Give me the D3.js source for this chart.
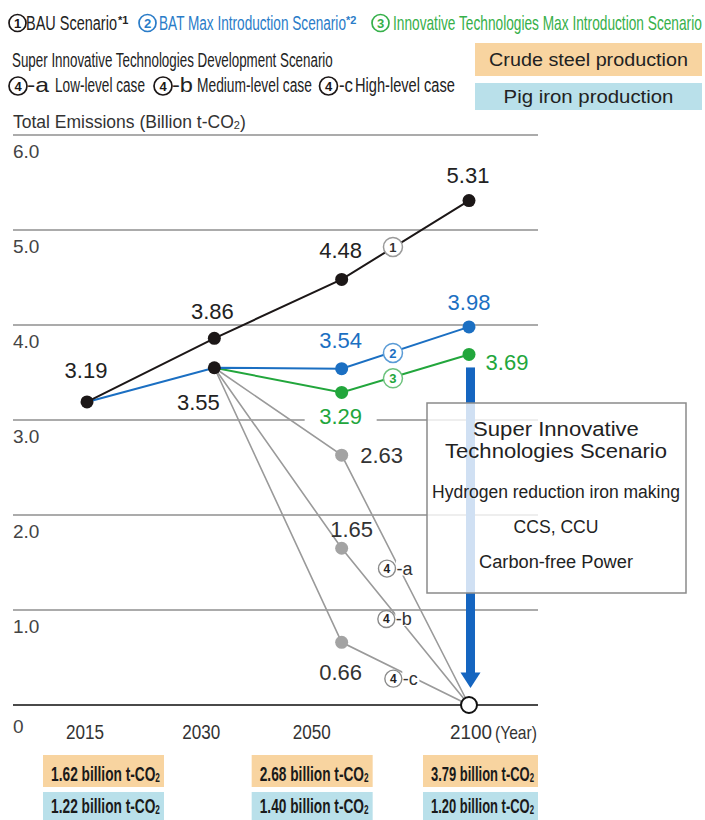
<!DOCTYPE html>
<html>
<head>
<meta charset="utf-8">
<script src="https://cdn.jsdelivr.net/npm/d3@7"></script>
<style>
  html, body { margin: 0; padding: 0; background: #fff; }
  svg { display: block; }
  text { font-family: "Liberation Sans", Arial, Helvetica, sans-serif; }
</style>
</head>
<body>
<svg id="chart" width="705" height="820"></svg>
<script>
// ---- data ----
const years = ["2015", "2030", "2050", "2100"];
const bauValues = [3.19, 3.86, 4.48, 5.31];
const batValues = [3.19, 3.55, 3.54, 3.98];
const innovValues = [null, 3.55, 3.29, 3.69];
const superLow = [null, 3.55, 2.63, 0];
const superMid = [null, 3.55, 1.65, 0];
const superHigh = [null, 3.55, 0.66, 0];
const superCases = ["a", "b", "c"];
const yTicks = [0, 1, 2, 3, 4, 5, 6];
const yTickLabels = ["0", "1.0", "2.0", "3.0", "4.0", "5.0", "6.0"];
const productionYears = ["2015", "2050", "2100"];
const crudeSteel = [1.62, 2.68, 3.79];
const pigIron = [1.22, 1.40, 1.20];

// ---- palette ----
const C = {
  black: "#1c1717", blue: "#1b6fc2", green: "#22a63c", gray: "#a3a3a3",
  grayLine: "#9a9a9a", grid: "#ababab", text: "#222",
  legendBlue: "#2a7cc8", legendGreen: "#36b04a",
  orange: "#f8d4a0", lightBlue: "#b9e0ea", arrow: "#1565c0"
};
const narrow = '"Liberation Sans Narrow", "Liberation Sans", Arial, sans-serif';

const svg = d3.select("#chart");
const x = d3.scalePoint().domain(years).range([87, 469]);
const y = d3.scaleLinear().domain([0, 6]).range([705, 135]);
const fmt = d3.format(".2f");

// squeeze a text element horizontally to a given width
function fitWidth(sel, width, tx, ty) {
  const w = sel.node().getComputedTextLength();
  const k = width / w;
  sel.attr("transform", `translate(${tx},${ty}) scale(${k},1)`);
  return sel;
}
function narrowText(parent, str, left, baseline, width, size, color, weight) {
  const t = parent.append("text").attr("x", 0).attr("y", 0)
    .attr("font-family", narrow).attr("font-size", size)
    .attr("font-weight", weight || "normal").attr("fill", color).text(str);
  return fitWidth(t, width, left, baseline);
}
function circledNum(parent, cx, cy, r, num, stroke, color, fs, sw) {
  const g = parent.append("g").attr("transform", `translate(${cx},${cy})`);
  g.append("circle").attr("r", r).attr("fill", "#fff")
    .attr("stroke", stroke).attr("stroke-width", sw || 1.5);
  g.append("text").attr("text-anchor", "middle").attr("dy", "0.36em")
    .attr("font-size", fs).attr("font-weight", "bold").attr("fill", color).text(num);
  return g;
}

// ---- legend ----
const lg = svg.append("g");
circledNum(lg, 17.5, 23, 8.5, "1", C.black, C.black, 13, 1.7);
narrowText(lg, "BAU Scenario", 26, 30, 91, 21, C.text);
lg.append("text").attr("x", 118).attr("y", 24).attr("font-size", 11).attr("font-weight", "bold")
  .attr("fill", C.text).text("*1");
circledNum(lg, 147.5, 23, 8.5, "2", C.legendBlue, C.legendBlue, 13, 1.7);
narrowText(lg, "BAT Max Introduction Scenario", 159, 30, 187, 21, C.legendBlue);
lg.append("text").attr("x", 346).attr("y", 24).attr("font-size", 11).attr("font-weight", "bold")
  .attr("fill", C.legendBlue).text("*2");
circledNum(lg, 380.5, 23, 8.5, "3", C.legendGreen, C.legendGreen, 13, 1.7);
narrowText(lg, "Innovative Technologies Max Introduction Scenario", 393, 30, 309, 21, C.legendGreen);

narrowText(lg, "Super Innovative Technologies Development Scenario", 12, 67, 321, 21, C.text);

const caseLegend = [
  { c: 18, dash: 27, dashW: 22, label: "Low-level case", lx: 55, lw: 90 },
  { c: 163, dash: 172, dashW: 21, label: "Medium-level case", lx: 197, lw: 115 },
  { c: 328.5, dash: 339, dashW: 14, label: "High-level case", lx: 355, lw: 100 }
];
caseLegend.forEach((d, i) => {
  circledNum(lg, d.c, 86, 9, "4", C.black, C.black, 13, 1.7);
  const t = lg.append("text").attr("x", 0).attr("y", 0).attr("font-size", 21)
    .attr("fill", C.text).text("-" + superCases[i]);
  fitWidth(t, d.dashW, d.dash, 92);
  narrowText(lg, d.label, d.lx, 92, d.lw, 21, C.text);
});

// production colour keys
const keys = [
  { label: "Crude steel production", fill: C.orange, y0: 43, h: 33, base: 66, w: 199 },
  { label: "Pig iron production", fill: C.lightBlue, y0: 83, h: 27, base: 103, w: 170 }
];
keys.forEach(k => {
  lg.append("rect").attr("x", 475).attr("y", k.y0).attr("width", 227).attr("height", k.h).attr("fill", k.fill);
  const t = lg.append("text").attr("x", 0).attr("y", 0).attr("text-anchor", "middle")
    .attr("font-size", 19).attr("fill", C.text).text(k.label);
  fitWidth(t, k.w, 588.5, k.base);
});

// ---- axis title ----
const title = svg.append("text").attr("x", 13).attr("y", 128).attr("font-size", 17.5).attr("fill", "#333");
title.append("tspan").text("Total Emissions (Billion t-CO");
title.append("tspan").attr("font-size", 11).attr("dy", 1).text("2");
title.append("tspan").attr("dy", -1).text(")");

// ---- grid ----
const grid = svg.append("g");
grid.selectAll("line").data(yTicks).join("line")
  .attr("x1", 13).attr("x2", 538)
  .attr("y1", d => y(d)).attr("y2", d => y(d))
  .attr("stroke", d => d === 0 ? "#4a4a4a" : C.grid)
  .attr("stroke-width", 2);
grid.selectAll("text").data(yTicks).join("text")
  .attr("x", 13).attr("y", d => y(d) + (d === 0 ? 28 : 23))
  .attr("font-size", 19).attr("fill", "#444")
  .text((d, i) => yTickLabels[i]);

// ---- x labels ----
const yearShift = [-2, -13, -30, 2];
const xl = svg.append("g");
years.forEach((yr, i) => {
  const t = xl.append("text").attr("x", 0).attr("y", 0).attr("text-anchor", "middle")
    .attr("font-family", narrow).attr("font-size", 21).attr("fill", "#333").text(yr);
  fitWidth(t, yr === "2100" ? 42 : 38, x(yr) + yearShift[i], 739);
});
narrowText(xl, "(Year)", 495, 739, 42, 18, "#333");

// ---- series lines ----
const lineGen = d3.line().defined(d => d.v !== null).x(d => x(d.yr)).y(d => y(d.v));
const toPts = arr => arr.map((v, i) => ({ yr: years[i], v }));
const plot = svg.append("g");

const superSeries = [superLow, superMid, superHigh];
superSeries.forEach(s => {
  plot.append("path").attr("d", lineGen(toPts(s))).attr("fill", "none")
    .attr("stroke", C.grayLine).attr("stroke-width", 1.6);
});
plot.append("path").attr("d", lineGen(toPts(innovValues))).attr("fill", "none")
  .attr("stroke", C.green).attr("stroke-width", 2);
plot.append("path").attr("d", lineGen(toPts(batValues))).attr("fill", "none")
  .attr("stroke", C.blue).attr("stroke-width", 2);
plot.append("path").attr("d", lineGen(toPts(bauValues))).attr("fill", "none")
  .attr("stroke", C.black).attr("stroke-width", 2);

// ---- arrow towards zero emissions ----
const ax = x("2100") + 1.5;
const arrowTop = y(innovValues[3]) + 13;
const tip = y(0) - 17;
plot.append("rect").attr("x", ax - 4.5).attr("y", arrowTop).attr("width", 9)
  .attr("height", tip - 15 - arrowTop).attr("fill", C.arrow);
plot.append("path").attr("d", `M${ax - 10},${tip - 15.5}L${ax + 10},${tip - 15.5}L${ax},${tip}Z`).attr("fill", C.arrow);

// ---- scenario box ----
const box = svg.append("g");
box.append("rect").attr("x", 427).attr("y", 403).attr("width", 259).attr("height", 190)
  .attr("fill", "#fff").attr("fill-opacity", 0.8).attr("stroke", "#8a8a8a").attr("stroke-width", 1.5);
const boxLines = [
  { s: "Super Innovative", b: 436, w: 166, fs: 19.5, wt: 500, f: "Roboto, 'Liberation Sans', sans-serif" },
  { s: "Technologies Scenario", b: 458, w: 222, fs: 19.5, wt: 500, f: "Roboto, 'Liberation Sans', sans-serif" },
  { s: "Hydrogen reduction iron making", b: 498, w: 248, fs: 19, wt: "normal", f: narrow },
  { s: "CCS, CCU", b: 533, w: 85, fs: 19, wt: "normal", f: narrow },
  { s: "Carbon-free Power", b: 568, w: 154, fs: 19, wt: "normal", f: narrow }
];
boxLines.forEach(l => {
  const t = box.append("text").attr("x", 0).attr("y", 0).attr("text-anchor", "middle")
    .attr("font-family", l.f).attr("font-size", l.fs).attr("font-weight", l.wt)
    .attr("fill", C.text).text(l.s);
  fitWidth(t, l.w, 556, l.b);
});

// ---- scenario markers on lines ----
const along = (s, t) => {
  const x0 = x(years[2]), y0 = y(s[2]), x1 = x(years[3]), y1 = y(s[3]);
  return [x0 + (x1 - x0) * t, y0 + (y1 - y0) * t];
};
const mk = svg.append("g");
[[bauValues, "1", "#9a9a9a", "#333"], [batValues, "2", "#5a9bd6", C.blue], [innovValues, "3", "#6cc27c", C.green]]
  .forEach(([s, n, st, col]) => {
    const [px, py] = along(s, 0.45);
    circledNum(mk, px - 6, py + 3, 9.5, n, st, col, 13, 1.5);
  });
const caseT = [0.45, 0.445, 0.5];
superSeries.forEach((s, i) => {
  const [px, py] = along(s, caseT[i]);
  const g = mk.append("g").attr("transform", `translate(${px - 12},${py + (i === 2 ? 5 : 1)})`);
  g.append("rect").attr("x", 9).attr("y", -8).attr("width", 17).attr("height", 15).attr("fill", "#fff");
  circledNum(g, 0, 0, 8.5, "4", "#8a8a8a", "#222", 12, 1.4);
  g.append("text").attr("x", 9.5).attr("y", 6).attr("font-size", 18).attr("fill", "#333").text("-" + superCases[i]);
});

// ---- points ----
const pts = svg.append("g");
const dot = (yr, v, fill) => pts.append("circle").attr("cx", x(yr)).attr("cy", y(v)).attr("r", 6.5).attr("fill", fill);
superSeries.forEach(s => dot(years[2], s[2], C.gray));
[2, 3].forEach(i => { dot(years[i], innovValues[i], C.green); dot(years[i], batValues[i], C.blue); });
bauValues.forEach((v, i) => dot(years[i], v, C.black));
dot(years[1], batValues[1], C.black);
pts.append("circle").attr("cx", x("2100")).attr("cy", y(0)).attr("r", 8)
  .attr("fill", "#fff").attr("stroke", "#111").attr("stroke-width", 2);

// ---- value labels ----
const vl = svg.append("g").attr("font-size", 22).attr("text-anchor", "middle");
function valueLabel(yr, v, dx, dy, color, bold, halo) {
  const px = x(yr) + dx, py = y(v) + dy;
  if (halo) vl.append("rect").attr("x", px - 36).attr("y", py - 18).attr("width", 72).attr("height", 20).attr("fill", "#fff");
  vl.append("text").attr("x", px).attr("y", py).attr("fill", color)
    .attr("font-weight", bold ? 500 : "normal")
    .attr("font-family", bold ? "Roboto, 'Liberation Sans', sans-serif" : null)
    .text(fmt(v));
}
valueLabel("2015", bauValues[0], -1, -24, C.text);
valueLabel("2030", bauValues[1], -2, -19, C.text);
valueLabel("2050", bauValues[2], -1, -21, C.text);
valueLabel("2100", bauValues[3], -1, -18, C.text, true);
valueLabel("2030", batValues[1], -16, 42, C.text);
valueLabel("2050", batValues[2], -1, -21, C.blue);
valueLabel("2100", batValues[3], 0, -17, C.blue, true);
valueLabel("2050", innovValues[2], -1, 32, C.green, false, true);
valueLabel("2100", innovValues[3], 38, 16, C.green, true);
valueLabel("2050", superLow[2], 40, 8, "#333");
valueLabel("2050", superMid[2], 10, -11, "#333");
valueLabel("2050", superHigh[2], -1, 38, "#333");

// ---- production boxes ----
const prodShift = [16.5, -29.5, 11.5];
const prodWidth = [121, 121, 115];
const prod = svg.append("g");
function prodBox(yr, i, v, fill, top, h, base) {
  const cx = x(yr) + prodShift[i], w = prodWidth[i];
  prod.append("rect").attr("x", cx - w / 2).attr("y", top).attr("width", w).attr("height", h).attr("fill", fill);
  const t = prod.append("text").attr("x", 0).attr("y", 0).attr("text-anchor", "middle")
    .attr("font-family", narrow).attr("font-size", 20).attr("font-weight", "bold").attr("fill", "#1a1a1a");
  t.append("tspan").text(fmt(v) + " billion t-CO");
  t.append("tspan").attr("font-size", 12).attr("dy", 1).text("2");
  fitWidth(t, w - 12, cx + 2, base);
}
productionYears.forEach((yr, i) => {
  prodBox(yr, i, crudeSteel[i], C.orange, 755, 32, 781);
  prodBox(yr, i, pigIron[i], C.lightBlue, 792, 28, 813);
});
</script>
</body>
</html>
